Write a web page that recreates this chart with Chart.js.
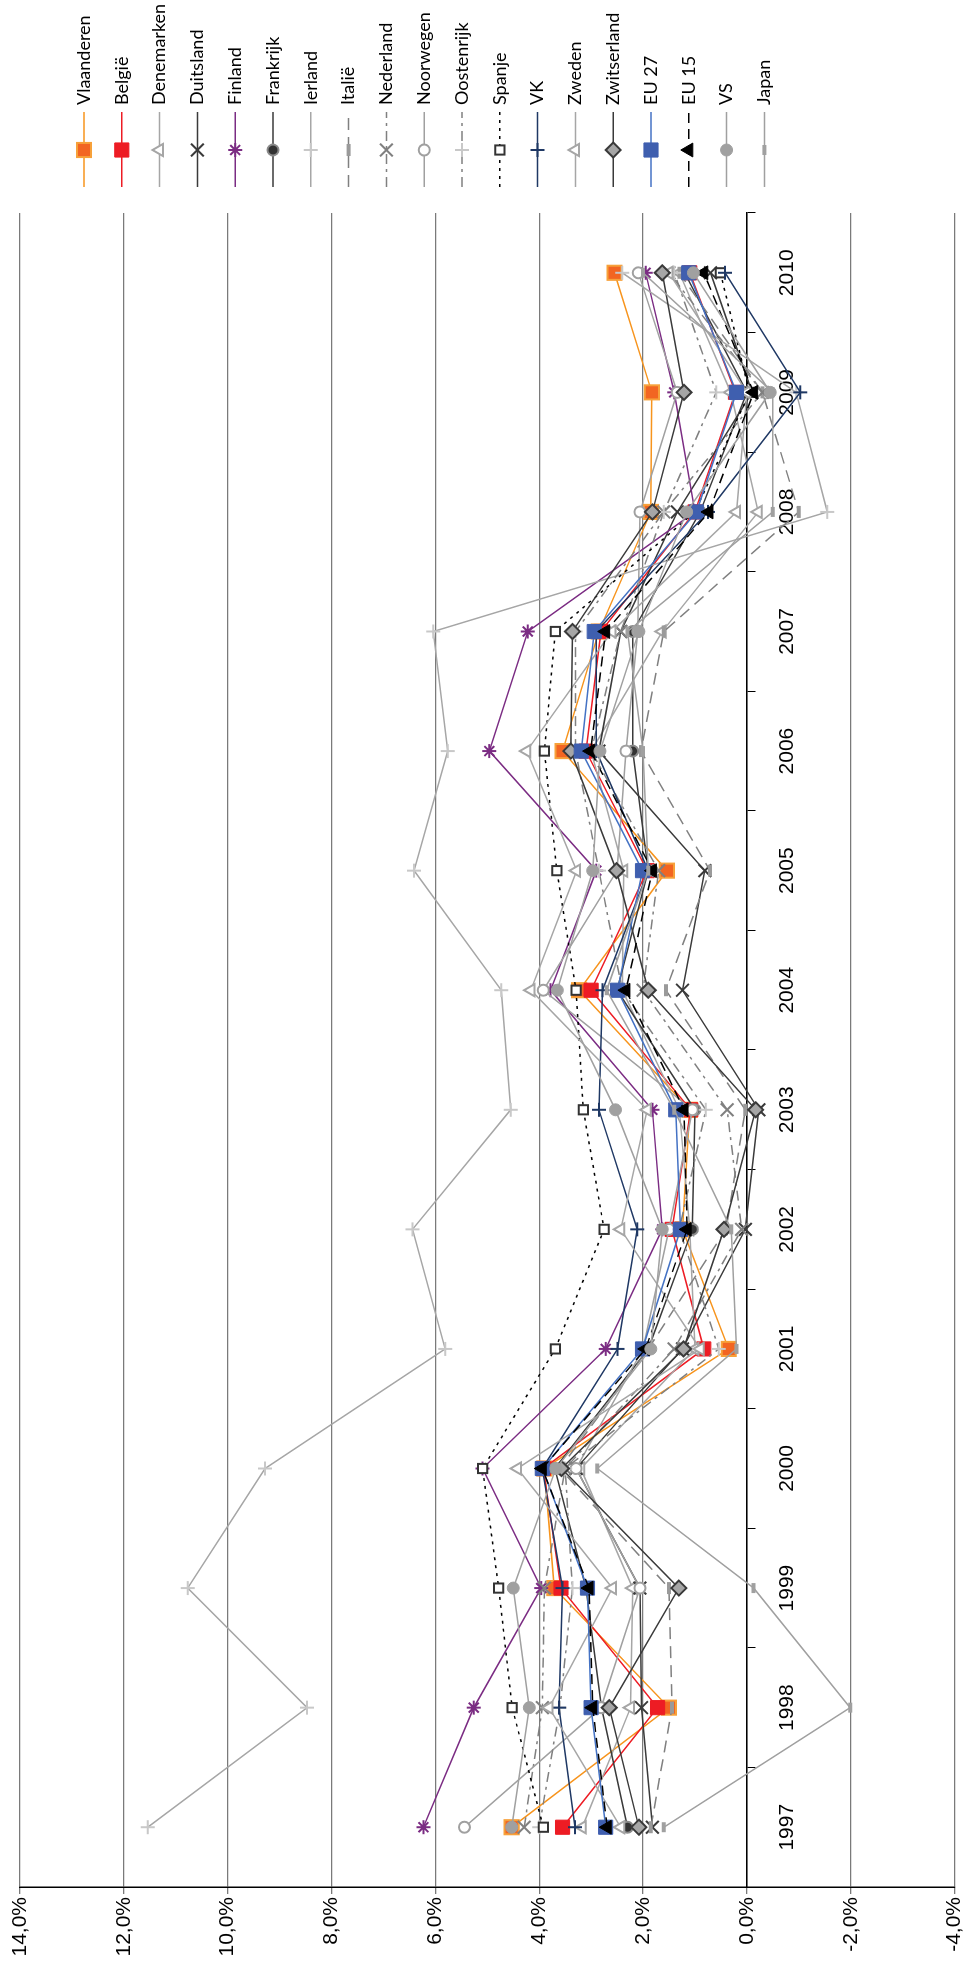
<!DOCTYPE html>
<html>
<head>
<meta charset="utf-8">
<script src="https://cdn.jsdelivr.net/npm/chart.js@4.4.1/dist/chart.umd.min.js"></script>
<style>
  html, body { margin: 0; padding: 0; background: #fff; overflow: hidden; }
  /* chart is drawn landscape, then turned a quarter left like the source */
  #wrap { position: absolute; left: 0; top: 0; width: 1973px; height: 967px;
          transform-origin: 0 0; transform: translateY(1973px) rotate(-90deg); }
  canvas { display: block; }
</style>
</head>
<body>
<div id="wrap"><canvas id="chart" width="1973" height="967"></canvas></div>
<script>
const years = ["1997", "1998", "1999", "2000", "2001", "2002", "2003", "2004", "2005", "2006", "2007", "2008", "2009", "2010"];

const vlaanderen  = [4.53, 1.50, 3.71, 3.90, 0.35, 1.24, 1.10, 3.23, 1.54, 3.55, 2.85, 1.85, 1.83, 2.55];
const belgie      = [3.55, 1.72, 3.58, 3.92, 0.83, 1.44, 1.08, 3.00, 1.92, 3.10, 2.81, 1.00, 0.22, 1.10];
const denemarken  = [3.17, 2.24, 2.20, 3.20, 1.00, 1.10, 1.30, 2.40, 2.37, 3.00, 1.63, -0.22, 0.31, 1.30];
const duitsland   = [1.82, 2.03, 2.06, 3.29, 1.24, 0.03, -0.23, 1.24, 0.81, 2.85, 2.43, 1.34, -0.10, 0.70];
const finland     = [6.23, 5.26, 3.96, 5.09, 2.72, 1.63, 1.82, 3.78, 2.90, 4.96, 4.22, 1.00, 1.40, 1.95];
const frankrijk   = [2.30, 2.80, 3.10, 3.70, 1.90, 1.05, 1.00, 2.50, 1.90, 2.20, 2.20, 0.90, 0.00, 1.20];
const ierland     = [11.54, 8.47, 10.77, 9.28, 5.81, 6.44, 4.55, 4.73, 6.41, 5.76, 6.04, -1.55, -0.95, 2.40];
const italie      = [1.85, 1.44, 1.50, 3.60, 1.90, 0.40, 0.03, 1.56, 0.71, 2.04, 1.60, -1.00, -0.30, 1.30];
const nederland   = [4.29, 3.94, 3.90, 3.50, 1.40, 0.10, 0.38, 2.00, 1.70, 3.00, 2.43, 1.60, -0.30, 1.50];
const noorwegen   = [5.44, 2.81, 2.06, 3.29, 2.00, 1.50, 1.05, 3.92, 2.50, 2.33, 2.10, 2.06, 1.34, 2.09];
const oostenrijk  = [4.00, 3.60, 3.36, 3.50, 0.54, 1.30, 0.79, 2.40, 2.85, 3.30, 3.30, 1.60, 0.59, 1.40];
const spanje      = [3.92, 4.52, 4.78, 5.09, 3.69, 2.75, 3.15, 3.29, 3.66, 3.90, 3.69, 1.00, -0.05, 0.51];
const vk          = [3.31, 3.62, 3.55, 3.94, 2.49, 2.11, 2.85, 2.78, 1.90, 2.90, 2.90, 0.75, -1.03, 0.42];
const zweden      = [2.43, 3.81, 2.59, 4.42, 0.90, 2.43, 1.92, 4.16, 3.28, 4.24, 2.60, 0.20, 0.00, 1.50];
const zwitserland = [2.08, 2.65, 1.31, 3.57, 1.22, 0.44, -0.17, 1.90, 2.51, 3.39, 3.36, 1.82, 1.21, 1.63];
const eu27        = [2.72, 3.00, 3.07, 3.94, 2.01, 1.28, 1.37, 2.49, 2.01, 3.19, 2.94, 0.97, 0.20, 1.12];
const eu15        = [2.69, 2.97, 3.04, 3.94, 1.95, 1.15, 1.21, 2.33, 1.82, 3.01, 2.72, 0.73, -0.13, 0.83];
const vs          = [4.53, 4.19, 4.50, 3.68, 1.85, 1.63, 2.53, 3.65, 2.97, 2.83, 2.08, 1.16, -0.45, 1.03];
const japan       = [1.60, -1.99, -0.13, 2.88, 0.20, 0.30, 1.40, 2.70, 1.90, 2.00, 2.30, -0.50, -0.50, 2.00];

const axisFont = "'Liberation Sans', Arial, sans-serif";

// line colour, dash, marker style, marker size, marker fill, marker edge
function serie(label, data, color, dash, style, radius, fill, edge, edgeWidth) {
    return {
        label: label,
        data: data,
        borderColor: color,
        borderWidth: 1.5,
        borderDash: dash,
        pointStyle: style,
        pointRadius: radius,
        pointBackgroundColor: fill,
        pointBorderColor: edge,
        pointBorderWidth: edgeWidth,
        tension: 0,
        fill: false
    };
}

const datasets = [
    serie("Vlaanderen", vlaanderen, "#F7941D", [], "rect", 10, "#F26522", "#F7A13A", 2),
    serie("België", belgie, "#ED1C24", [], "rect", 10, "#ED1C24", "#ED1C24", 1),
    serie("Denemarken", denemarken, "#A6A6A6", [], "triangle", 7, "#FFFFFF", "#A6A6A6", 2),
    serie("Duitsland", duitsland, "#3A3A3A", [], "crossRot", 9, "#3A3A3A", "#3A3A3A", 2),
    serie("Finland", finland, "#7B2C83", [], "star", 7, "#7B2C83", "#7B2C83", 2),
    serie("Frankrijk", frankrijk, "#3A3A3A", [], "circle", 5.5, "#333333", "#8A8A8A", 2),
    serie("Ierland", ierland, "#A6A6A6", [], "cross", 7, "#C8C8C8", "#C8C8C8", 2),
    serie("Italië", italie, "#808080", [12, 7], "line", 6, "#9A9A9A", "#9A9A9A", 4),
    serie("Nederland", nederland, "#808080", [10, 5, 3, 5], "crossRot", 9, "#808080", "#808080", 2),
    serie("Noorwegen", noorwegen, "#A0A0A0", [], "circle", 5.5, "#FFFFFF", "#A0A0A0", 2),
    serie("Oostenrijk", oostenrijk, "#808080", [10, 5, 3, 5], "cross", 7, "#C8C8C8", "#C8C8C8", 2),
    serie("Spanje", spanje, "#000000", [3, 5], "rect", 6.5, "#FFFFFF", "#333333", 2),
    serie("VK", vk, "#1F3864", [], "cross", 7, "#1F3864", "#1F3864", 2),
    serie("Zweden", zweden, "#A6A6A6", [], "triangle", 7, "#FFFFFF", "#A6A6A6", 2),
    serie("Zwitserland", zwitserland, "#3A3A3A", [], "rectRot", 7.5, "#A6A6A6", "#3A3A3A", 2),
    serie("EU 27", eu27, "#4472C4", [], "rect", 10, "#3F5FAF", "#3F5FAF", 1),
    serie("EU 15", eu15, "#000000", [10, 6], "triangle", 8, "#000000", "#000000", 1),
    serie("VS", vs, "#A0A0A0", [], "circle", 6, "#A0A0A0", "#A0A0A0", 1),
    serie("Japan", japan, "#A0A0A0", [], "line", 5, "#A0A0A0", "#A0A0A0", 4)
];
// later series sit on top, as in the source
datasets.forEach((d, i) => { d.order = -i; });

// legend on the right: line sample with marker, then the name
const lineLegend = {
    id: "lineLegend",
    afterDraw(chart) {
        const ctx = chart.ctx;
        chart.data.datasets.forEach((ds, i) => {
            const y = 84 + i * 37.8;
            ctx.save();
            ctx.strokeStyle = ds.borderColor;
            ctx.lineWidth = ds.borderWidth;
            ctx.setLineDash(ds.borderDash);
            ctx.beginPath();
            ctx.moveTo(1786, y);
            ctx.lineTo(1861, y);
            ctx.stroke();
            ctx.setLineDash([]);
            ctx.fillStyle = ds.pointBackgroundColor;
            ctx.strokeStyle = ds.pointBorderColor;
            ctx.lineWidth = ds.pointBorderWidth;
            Chart.helpers.drawPoint(ctx, {
                pointStyle: ds.pointStyle,
                radius: ds.pointRadius,
                rotation: 0,
                borderWidth: ds.pointBorderWidth
            }, 1823, y);
            ctx.fillStyle = "#000";
            ctx.font = "18px Lato";
            ctx.textBaseline = "middle";
            ctx.textAlign = "left";
            ctx.fillText(ds.label, 1868, y);
            ctx.restore();
        });
    }
};

new Chart(document.getElementById("chart"), {
    type: "line",
    data: { labels: years, datasets: datasets },
    options: {
        responsive: false,
        animation: false,
        devicePixelRatio: 1,
        layout: { padding: { left: 0, right: 213, top: 20, bottom: 10 } },
        plugins: {
            legend: { display: false },
            tooltip: { enabled: false }
        },
        scales: {
            x: {
                position: { y: 0 },
                offset: true,
                grid: { drawOnChartArea: false, drawTicks: true, tickLength: 8, color: "#000", offset: true },
                border: { color: "#000", width: 1.5 },
                ticks: { color: "#000", font: { family: axisFont, size: 21 }, padding: 20, maxRotation: 0, autoSkip: false }
            },
            y: {
                min: -4,
                max: 14,
                ticks: {
                    stepSize: 2,
                    color: "#000",
                    padding: 3,
                    font: { family: axisFont, size: 21, lineHeight: 0.9 },
                    callback: v => v.toFixed(1).replace(".", ",") + "%"
                },
                grid: { color: "#7A7A7A", lineWidth: 1.3, tickLength: 7 },
                border: { color: "#000", width: 1.5 },
                afterFit(scale) { scale.width = 86; }
            }
        }
    },
    plugins: [lineLegend]
});
</script>
</body>
</html>
